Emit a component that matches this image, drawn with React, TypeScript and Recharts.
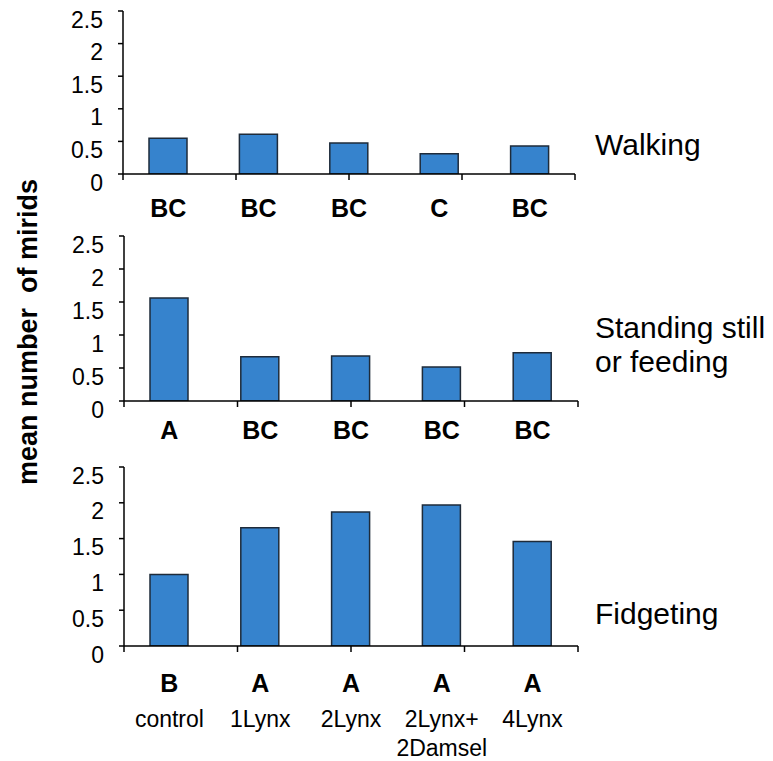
import { BarChart, Bar, XAxis, YAxis } from "recharts";

// treatment groups (bottom labels, second entry = second line)
const groups = [["control"], ["1Lynx"], ["2Lynx"], ["2Lynx+", "2Damsel"], ["4Lynx"]];

const walking = [0.55, 0.61, 0.475, 0.31, 0.43];
const walkingLetters = ["BC", "BC", "BC", "C", "BC"];

const standing = [1.56, 0.67, 0.68, 0.515, 0.73];
const standingLetters = ["A", "BC", "BC", "BC", "BC"];

const fidgeting = [1.0, 1.65, 1.87, 1.97, 1.46];
const fidgetingLetters = ["B", "A", "A", "A", "A"];

const yTicks = [0, 0.5, 1, 1.5, 2, 2.5];
const edgeTicks = [0, 1, 2, 3, 4, 5];

const FONT = "'Liberation Sans', Arial, sans-serif";
const BAR_FILL = "#3683CD";
const BAR_STROKE = "#1E2B3A";

function YTick(props: any) {
  const { x, y, payload } = props;
  return (
    <text x={x} y={y} dy={16.5} textAnchor="end" fontSize={23} fill="#000" fontFamily={FONT}>
      {payload.value}
    </text>
  );
}

function CategoryTick(props: any) {
  const { x, y, index, letters, letterDy, showNames } = props;
  return (
    <g>
      <text x={x} y={y + letterDy} textAnchor="middle" fontSize={25} fontWeight="bold" fill="#000" fontFamily={FONT}>
        {letters[index]}
      </text>
      {showNames &&
        groups[index].map((line, k) => (
          <text key={k} x={x} y={y + 80 + k * 29} textAnchor="middle" fontSize={23} fill="#000" fontFamily={FONT}>
            {line}
          </text>
        ))}
    </g>
  );
}

interface PanelProps {
  values: number[];
  letters: string[];
  top: number;
  plotHeight: number;
  axisHeight: number;
  yAxisWidth: number;
  width: number;
  letterDy: number;
  showNames?: boolean;
}

function Panel({ values, letters, top, plotHeight, axisHeight, yAxisWidth, width, letterDy, showNames }: PanelProps) {
  const data = groups.map((g, i) => ({ group: g.join(" "), value: values[i] }));
  const marginTop = 11;
  const height = marginTop + plotHeight + 1 + axisHeight;
  return (
    <div style={{ position: "absolute", left: 0, top }}>
      <BarChart width={width} height={height} data={data} margin={{ top: marginTop, right: 15, bottom: 0, left: 0 }}>
        <XAxis
          xAxisId="b-cat"
          dataKey="group"
          height={axisHeight}
          axisLine={false}
          tickLine={false}
          tickSize={0}
          tickMargin={0}
          interval={0}
          tick={(p: any) => <CategoryTick {...p} letters={letters} letterDy={letterDy} showNames={showNames} />}
        />
        {/* boundary ticks between groups */}
        <XAxis
          xAxisId="a-edge"
          type="number"
          domain={[0, 5]}
          allowDataOverflow
          ticks={edgeTicks}
          interval={0}
          height={1}
          tick={() => <g />}
          tickSize={6}
          axisLine={{ stroke: "#000", strokeWidth: 1.5 }}
          tickLine={{ stroke: "#000", strokeWidth: 1.5 }}
        />
        <YAxis
          domain={[0, 2.5]}
          allowDataOverflow
          ticks={yTicks}
          interval={0}
          width={yAxisWidth}
          tickSize={5}
          tickMargin={15}
          axisLine={{ stroke: "#000", strokeWidth: 1.5 }}
          tickLine={{ stroke: "#000", strokeWidth: 1.5 }}
          tick={<YTick />}
        />
        <Bar
          xAxisId="b-cat"
          dataKey="value"
          fill={BAR_FILL}
          stroke={BAR_STROKE}
          strokeWidth={1.5}
          barSize={38}
          isAnimationActive={false}
        />
      </BarChart>
    </div>
  );
}

export default function App() {
  return (
    <div
      style={{
        position: "absolute",
        left: 0,
        top: 0,
        width: 773,
        height: 761,
        background: "#fff",
        fontFamily: FONT,
      }}
    >
      <Panel values={walking} letters={walkingLetters} top={0} plotHeight={163} axisHeight={50} yAxisWidth={123} width={590} letterDy={42} />
      <Panel values={standing} letters={standingLetters} top={225} plotHeight={165} axisHeight={50} yAxisWidth={124} width={593} letterDy={37} />
      <Panel values={fidgeting} letters={fidgetingLetters} top={456} plotHeight={179} axisHeight={114} yAxisWidth={124} width={593} letterDy={45} showNames />
      <svg width={773} height={761} style={{ position: "absolute", left: 0, top: 0, pointerEvents: "none" }}>
        <text
          transform="translate(36.7,332) rotate(-90)"
          textAnchor="middle"
          fontSize={27}
          fontWeight="bold"
          fontFamily={FONT}
          fill="#000"
          style={{ whiteSpace: "pre" }}
        >
          mean number  of mirids
        </text>
        <g fontSize={30} fontFamily={FONT} fill="#000">
          <text x={595} y={155}>Walking</text>
          <text x={595} y={338}>Standing still</text>
          <text x={595} y={372}>or feeding</text>
          <text x={595} y={624}>Fidgeting</text>
        </g>
      </svg>
    </div>
  );
}
